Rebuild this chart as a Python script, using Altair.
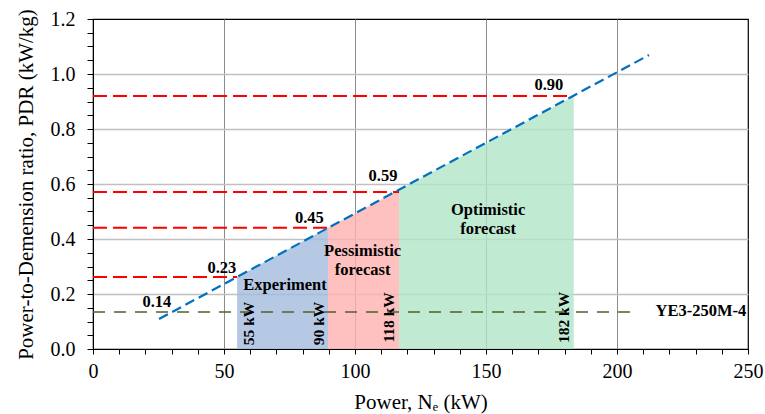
import altair as alt
import pandas as pd

# ---- data ----
# blue dashed trend line (endpoints)
trend_x = [25.2, 212.2]
trend_y = [0.109, 1.069]

# shaded regions (top edge follows the trend line)
region_name = ["Experiment", "Experiment", "Pessimistic", "Pessimistic", "Optimistic", "Optimistic"]
region_x = [55.0, 89.7, 89.7, 116.8, 116.8, 183.5]
region_y = [0.262, 0.441, 0.441, 0.578, 0.578, 0.920]

# red dashed PDR levels
level_y = [0.262, 0.441, 0.571, 0.920]
level_x_end = [55.0, 89.7, 116.8, 183.5]
level_text = ["0.23", "0.45", "0.59", "0.90"]
level_text_x = [49.2, 82.6, 110.7, 174.0]
level_text_y = [0.295, 0.478, 0.629, 0.960]

# green dashed reference motor line
ref_y = [0.135]
ref_x_end = [207.6]
ref_text = ["0.14", "YE3-250M-4"]
ref_text_x = [24.4, 232.0]
ref_text_y = [0.172, 0.138]

# region captions
cap_text = ["Experiment", "Pessimistic", "forecast", "Optimistic", "forecast"]
cap_x = [73.3, 102.9, 102.9, 150.8, 150.8]
cap_y = [0.232, 0.358, 0.289, 0.507, 0.438]

# vertical power labels
kw_text = ["55 kW", "90 kW", "118 kW", "182 kW"]
kw_x = [59.5, 86.3, 113.0, 179.8]
kw_y = [0.093, 0.093, 0.115, 0.115]

FONT = "Liberation Serif, Times New Roman, serif"

xscale = alt.Scale(domain=[0, 250], nice=False, zero=False)
yscale = alt.Scale(domain=[0, 1.2], nice=False, zero=False)

xaxis = alt.Axis(
    values=list(range(0, 251, 10)),
    labelExpr="datum.value % 50 === 0 ? datum.label : ''",
    labelFlush=False,
    labelOverlap=False,
    grid=True,
    gridColor={"condition": {"test": "datum.value % 50 === 0 && datum.value > 0 && datum.value < 250", "value": "#8c8c8c"}, "value": "transparent"},
    gridWidth=1,
    tickSize=5,
    tickColor="#000000",
    domainColor="#000000",
    labelFont=FONT,
    labelFontSize=20,
    labelColor="#000000",
    labelPadding=7,
    titleFont=FONT,
    titleFontSize=21,
    titleFontWeight="normal",
    titleColor="#000000",
    titlePadding=10,
)
yaxis = alt.Axis(
    values=[round(i * 0.05, 2) for i in range(25)],
    labelExpr="abs(datum.value*5 - round(datum.value*5)) < 0.001 ? format(datum.value, '.1f') : ''",
    labelFlush=False,
    labelOverlap=False,
    grid=True,
    gridColor={"condition": {"test": "abs(datum.value*5 - round(datum.value*5)) < 0.001 && datum.value > 0.01 && datum.value < 1.19", "value": "#c0c0c0"}, "value": "transparent"},
    gridWidth=1.5,
    tickSize=6,
    tickColor="#000000",
    domainColor="#000000",
    labelFont=FONT,
    labelFontSize=20,
    labelColor="#000000",
    labelPadding=12,
    titleFont=FONT,
    titleFontSize=21,
    titleFontWeight="normal",
    titleColor="#000000",
    titlePadding=14,
)

X = alt.X("x:Q", scale=xscale, axis=xaxis, title="Power, Nₑ (kW)")
Y = alt.Y("y:Q", scale=yscale, axis=yaxis, stack=None,
          title="Power-to-Demension ratio, PDR (kW/kg)")

df_region = pd.DataFrame({"x": region_x, "y": region_y, "region": region_name})
areas = alt.Chart(df_region).mark_area(opacity=0.8, line=False).encode(
    x=X, y=Y,
    color=alt.Color("region:N",
                    scale=alt.Scale(domain=["Experiment", "Pessimistic", "Optimistic"],
                                    range=["#a3bcdd", "#ffb0b0", "#b1e5c8"]),
                    legend=None),
    detail="region:N",
)

df_levels = pd.DataFrame({"x": [0.0] * len(level_y), "x2": level_x_end, "y": level_y})
levels = alt.Chart(df_levels).mark_rule(color="#ff0000", strokeWidth=2, strokeDash=[14, 6]).encode(
    x=X, x2="x2:Q", y=Y
)

df_ref = pd.DataFrame({"x": [0.0], "x2": ref_x_end, "y": ref_y})
ref = alt.Chart(df_ref).mark_rule(color="#4f6228", strokeWidth=1.5, strokeDash=[12, 9]).encode(
    x=X, x2="x2:Q", y=Y
)

df_trend = pd.DataFrame({"x": trend_x, "y": trend_y})
trend = alt.Chart(df_trend).mark_line(color="#0070c0", strokeWidth=2.2, strokeDash=[10, 5]).encode(
    x=X, y=Y
)

df_lt = pd.DataFrame({"x": level_text_x + ref_text_x, "y": level_text_y + ref_text_y,
                      "t": level_text + ref_text})
ltext = alt.Chart(df_lt).mark_text(font=FONT, fontSize=16.5, fontWeight="bold", color="#000000",
                                   align="center", baseline="middle").encode(
    x=X, y=Y, text="t:N"
)

df_cap = pd.DataFrame({"x": cap_x, "y": cap_y, "t": cap_text})
ctext = alt.Chart(df_cap).mark_text(font=FONT, fontSize=16.5, fontWeight="bold", color="#000000",
                                    align="center", baseline="middle").encode(
    x=X, y=Y, text="t:N"
)

df_kw = pd.DataFrame({"x": kw_x, "y": kw_y, "t": kw_text})
kwtext = alt.Chart(df_kw).mark_text(font=FONT, fontSize=15.5, fontWeight="bold", color="#000000",
                                    align="center", baseline="middle", angle=270).encode(
    x=X, y=Y, text="t:N"
)

chart = alt.layer(areas, levels, ref, trend, ltext, ctext, kwtext).properties(
    width=655, height=330,
    autosize=alt.AutoSizeParams(type="none"),
    padding={"left": 93, "top": 19, "right": 17, "bottom": 65},
    background="white",
).configure_view(stroke="#000000", strokeWidth=1.2)

chart.save("out.html", embed_options={"renderer": "svg", "actions": False})
